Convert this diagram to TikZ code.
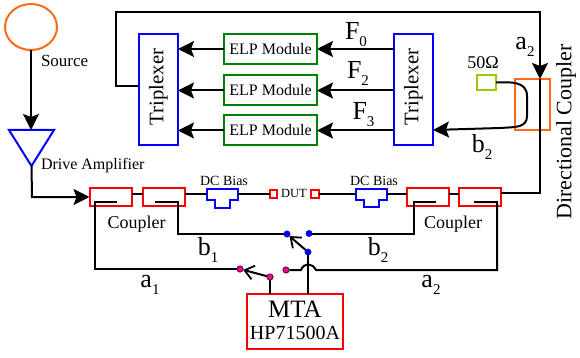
\documentclass[tikz,border=0pt]{standalone}
\usepackage{fontspec}
\setmainfont{Liberation Serif}
\usetikzlibrary{arrows.meta,calc,shapes.geometric}
\definecolor{corange}{RGB}{255,106,20}
\definecolor{cgreen}{RGB}{0,128,0}
\definecolor{clime}{RGB}{153,204,0}
\newcommand{\fs}[1]{\fontsize{#1}{#1}\selectfont}
\newcommand{\subs}[1]{{\fs{15}\raisebox{-7pt}{#1}}}
\tikzset{
  wire/.style={line width=2pt,black,line join=miter},
  big/.style={wire,-{Stealth[length=16pt,width=16pt,inset=3pt]}},
  openar/.style={wire,-{Straight Barb[length=9pt,width=14pt,line width=1.8pt]}},
  tri/.style={draw=blue,line width=2pt,minimum width=39pt,minimum height=111pt,inner sep=0,outer sep=0},
  elp/.style={draw=cgreen,line width=2pt,minimum width=93pt,inner sep=0,outer sep=0},
  cpl/.style={draw=red,line width=2pt,minimum width=42pt,minimum height=18pt,inner sep=0,outer sep=0},
  duts/.style={draw=red,line width=1.8pt,minimum width=7.5pt,minimum height=8pt,inner sep=0,outer sep=0},
  lbl/.style={inner sep=0,outer sep=0,text=black},
  dotb/.style={circle,fill=blue,draw=black!40!blue,line width=.3pt,minimum size=6.5pt,inner sep=0,outer sep=0},
  dotp/.style={circle,fill=magenta,draw=black,line width=.5pt,minimum size=6.5pt,inner sep=0,outer sep=0},
  biasp/.style={draw=blue,line width=2pt,line join=miter}
}
\begin{document}
\begin{tikzpicture}[x=1pt,y=-1pt]
\useasboundingbox (0,0) rectangle (580,358);
% source and amplifier
\node[draw=corange,line width=2pt,ellipse,minimum width=52pt,minimum height=46pt,inner sep=0,outer sep=0] (src) at (31,27) {};
\node[lbl,anchor=west,font=\fs{17}] (srcl) at (41,61) {Source};
\coordinate (ampa) at (9,130);
\coordinate (ampb) at (54,130);
\coordinate (ampc) at (31.5,166);
\coordinate (amptop) at (31,130);
\draw[draw=blue,line width=2pt,line join=miter] (ampa) -- (ampb) -- (ampc) -- cycle;
\node[lbl,anchor=west,font=\fs{16}] (ampl) at (41,166) {Drive Amplifier};
\draw[big] (src.south) -- (amptop);
% triplexers
\node[tri] (tl) at (158.5,89.5) {};
\node[lbl,rotate=90,font=\fs{20.7}] (tlt) at (158.5,87) {Triplexer};
\node[tri] (tr) at (413.5,89.5) {};
\node[lbl,rotate=90,font=\fs{20.7}] (trt) at (413.5,87) {Triplexer};
% ELP modules
\node[elp,minimum height=30pt,font=\fs{16}] (e1) at (270.5,49) {ELP Module};
\node[elp,minimum height=30pt,font=\fs{16}] (e2) at (270.5,90.5) {ELP Module};
\node[elp,minimum height=30pt,font=\fs{16}] (e3) at (270.5,130.5) {ELP Module};
\foreach \n in {e1,e2,e3}{
  \draw[big] (\n.west) -- (tl.east |- \n.west);
  \draw[big] (tr.west |- \n.east) -- (\n.east);
}
\node[lbl,font=\fs{26}] (f0) at (356,35) {F\subs{0}};
\node[lbl,font=\fs{26}] (f2) at (358,73) {F\subs{2}};
\node[lbl,font=\fs{26}] (f3) at (363.5,115) {F\subs{3}};
% directional coupler
\node[draw=corange,line width=2pt,minimum width=35pt,minimum height=51pt,inner sep=0,outer sep=0] (dc) at (532.5,104.5) {};
\node[draw=clime,line width=2pt,minimum width=19pt,minimum height=15pt,inner sep=0,outer sep=0] (load) at (486.5,82.5) {};
\node[lbl,font=\fs{18}] (ohm) at (483,63) {50Ω};
\node[lbl,rotate=90,font=\fs{22}] (dcl) at (566,132) {Directional Coupler};
\node[lbl,font=\fs{26}] (a2t) at (525,47) {a\subs{2}};
\node[lbl,font=\fs{26}] (b2t) at (482,147) {b\subs{2}};
\coordinate (bret) at (433,130);
\draw[big] (load.east) .. controls (510,82) and (527,81) .. (527,96) -- (527,116)
  .. controls (527,128) and (515,127) .. (500,128) -- (bret);
% bottom chain
\node[cpl] (c1) at (110.5,197) {};
\node[cpl] (c2) at (164,197) {};
\node[cpl] (c3) at (428,197) {};
\node[cpl] (c4) at (480,197) {};
\node[lbl,font=\fs{18}] (cl1) at (136.5,224) {Coupler};
\node[lbl,font=\fs{18}] (cl2) at (453,224) {Coupler};
\draw[biasp] (207,189) -- (238,189) -- (238,199.5) -- (230,199.5) -- (230,208) -- (215,208) -- (215,199.5) -- (207,199.5) -- cycle;
\draw[biasp] (356,189) -- (387,189) -- (387,199.5) -- (379,199.5) -- (379,207) -- (364,207) -- (364,199.5) -- (356,199.5) -- cycle;
\node[lbl,font=\fs{14}] (bl1) at (224,181) {DC Bias};
\node[lbl,font=\fs{14}] (bl2) at (374,181) {DC Bias};
\node[duts] (d1) at (273.5,194) {};
\node[duts] (d2) at (315,194) {};
\node[lbl,font=\fs{12.5}] (dut) at (294,193) {DUT};
\coordinate (i1) at (207,194);
\coordinate (o1) at (238,194);
\coordinate (i2) at (356,194);
\coordinate (o2) at (387,194);
\draw[wire] (c1.east |- o1) -- (c2.west |- o1);
\draw[wire] (c3.east |- o1) -- (c4.west |- o1);
\draw[wire] (c2.east |- i1) -- (i1);
\draw[wire] (o1) -- (d1.west);
\draw[wire] (d2.east) -- (i2);
\draw[wire] (o2) -- (c3.west |- o2);
% feedback path
\coordinate (t1) at (540,12);
\coordinate (t2) at (115.5,12);
\coordinate (t3) at (115.5,86);
\coordinate (t4) at (540,193);
\draw[wire] (c4.east |- t4) -- (t4) -- (dc.north -| t4);
\draw[big] (tl.west |- t3) -- (t3) -- (t2) -- (t1) -- (dc.north -| t1);
% amp input
\draw[big] (ampc) -- (32,197) -- (c1.west);
% switch
\node[dotb] (s1) at (287,234) {};
\node[dotb] (s2) at (309,233.5) {};
\node[dotb] (s3) at (308,252) {};
\node[dotp] (p1) at (240,269) {};
\node[dotp] (p2) at (270,277) {};
\node[dotp] (p3) at (286,270) {};
\node[draw=red,line width=2pt,minimum width=96pt,minimum height=55pt,inner sep=0,outer sep=0] (mta) at (295,321.5) {};
\node[lbl,font=\fs{25}] (mta1) at (295,309) {MTA};
\node[lbl,font=\fs{20}] (mta2) at (295,333) {HP71500A};
\draw[openar] (s3) -- (s1);
\draw[openar] (p2) -- (p1);
\draw[wire] (p2) -- (p2 |- mta.north);
\draw[wire] (s3) -- (s3 |- mta.north);
% coupled ports
\draw[wire] (117,202) -- (95,202) -- (95,269) -- (p1);
\draw[wire] (155,202) -- (178,202) -- (178,234) -- (s1);
\draw[wire] (436,202) -- (414,202) -- (414,233.5) -- (s2);
\draw[wire] (474,202) -- (497,202) -- (497,270) -- (316,270)
  .. controls (312,262.5) and (304,262.5) .. (301,270) -- (p3);
\node[lbl,font=\fs{26}] (b1t) at (208,250) {b\subs{1}};
\node[lbl,font=\fs{26}] (b2b) at (378,250) {b\subs{2}};
\node[lbl,font=\fs{26}] (a1t) at (150,285) {a\subs{1}};
\node[lbl,font=\fs{26}] (a2b) at (431,285) {a\subs{2}};
\end{tikzpicture}
\end{document}
